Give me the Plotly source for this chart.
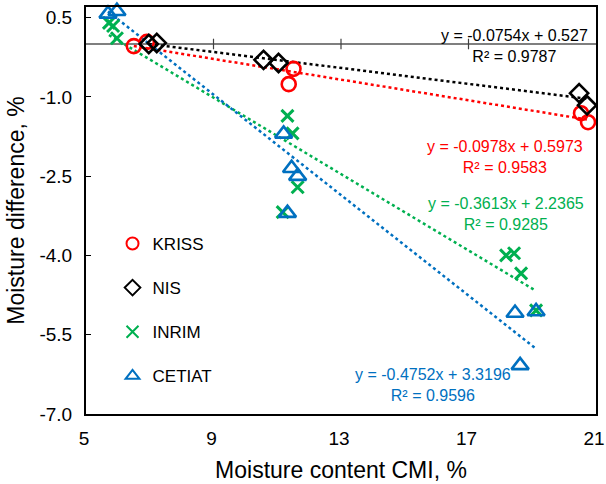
import plotly.graph_objects as go
import numpy as np

# ---- data ----
kriss_x = [6.50, 6.91, 11.36, 11.51, 20.53, 20.75]
kriss_y = [-0.04, 0.04, -0.76, -0.47, -1.31, -1.48]

nis_x = [6.97, 7.22, 10.57, 11.04, 20.47, 20.72]
nis_y = [0.00, 0.02, -0.30, -0.36, -0.93, -1.16]

inrim_x = [5.72, 5.85, 5.97, 11.32, 11.48, 11.64, 11.17, 18.18, 18.43, 18.65, 19.12]
inrim_y = [0.40, 0.34, 0.11, -1.36, -1.69, -2.71, -3.18, -4.00, -3.96, -4.34, -5.04]

cetiat_x = [5.69, 5.97, 11.20, 11.45, 11.64, 11.32, 18.46, 19.12, 18.62]
cetiat_y = [0.57, 0.62, -1.70, -2.35, -2.50, -3.20, -5.09, -5.06, -6.08]

# trendline coefficients (slope, intercept, R2)
kriss_fit = (-0.0978, 0.5973, 0.9583)
nis_fit = (-0.0754, 0.527, 0.9787)
inrim_fit = (-0.3613, 2.2365, 0.9285)
cetiat_fit = (-0.4752, 3.3196, 0.9596)

x_ticks = [5, 9, 13, 17, 21]
y_ticks = [0.5, -1.0, -2.5, -4.0, -5.5, -7.0]
y_ticktext = ["0.5", "-1.0", "-2.5", "-4.0", "-5.5", "-7.0"]
cross_ticks = [9, 13, 17]

FONT = "Liberation Sans, Arial, sans-serif"

series = [
    ("KRISS", kriss_x, kriss_y, kriss_fit, "#FF0000",
     dict(symbol="circle-open", size=14, line=dict(width=2.6, color="#FF0000")),
     (18.15, -2.13)),
    ("NIS", nis_x, nis_y, nis_fit, "#000000",
     dict(symbol="diamond-open", size=14, line=dict(width=2.6, color="#000000")),
     (18.45, -0.03)),
    ("INRIM", inrim_x, inrim_y, inrim_fit, "#00B050",
     dict(symbol="x-thin-open", size=12, line=dict(width=3, color="#00B050")),
     (18.18, -3.22)),
    ("CETIAT", cetiat_x, cetiat_y, cetiat_fit, "#0070C0",
     dict(symbol="triangle-up-open", size=15, line=dict(width=2.6, color="#0070C0")),
     (15.9, -6.46)),
]

fig = go.Figure()

# trendlines first
for name, xs, ys, fit, col, mk, pos in series:
    xx = np.linspace(min(xs), max(xs), 50)
    fig.add_trace(go.Scatter(x=xx, y=fit[0] * xx + fit[1], mode="lines",
                             line=dict(color=col, width=2.5, dash="dot"),
                             showlegend=False, hoverinfo="skip"))

for name, xs, ys, fit, col, mk, pos in series:
    fig.add_trace(go.Scatter(x=xs, y=ys, mode="markers", name=name,
                             marker=dict(color=col, **mk), cliponaxis=False,
                             legendgroup=name))

annotations = []
for name, xs, ys, fit, col, mk, pos in series:
    txt = f"y = {fit[0]}x + {fit[1]}<br>R² = {fit[2]}"
    annotations.append(dict(x=pos[0], y=pos[1], xref="x", yref="y", text=txt,
                            showarrow=False, align="center",
                            font=dict(family=FONT, size=16, color=col)))

shapes = []
for t in cross_ticks:
    shapes.append(dict(type="line", xref="x", yref="y", x0=t, x1=t,
                       y0=-0.1, y1=0.1, line=dict(color="#404040", width=1.2)))

fig.update_layout(
    width=606, height=484,
    margin=dict(l=86, r=10, t=7, b=70),
    paper_bgcolor="white", plot_bgcolor="white",
    font=dict(family=FONT, color="black"),
    annotations=annotations, shapes=shapes,
    legend=dict(x=0.052, y=0.462, xanchor="left", yanchor="top",
                font=dict(family=FONT, size=17, color="black"),
                itemsizing="constant",
                tracegroupgap=19, bgcolor="rgba(0,0,0,0)"),
    xaxis=dict(range=[5, 21], tickvals=x_ticks, showgrid=False, zeroline=False,
               showline=True, linecolor="black", linewidth=2, mirror=True,
               ticks="", tickfont=dict(family=FONT, size=19, color="black"),
               ticklabelstandoff=6, ticklabelshift=-2,
               ticklabeloverflow="allow", automargin=False,
               title=dict(text="Moisture content CMI, %", standoff=14,
                          font=dict(family=FONT, size=23, color="black"))),
    yaxis=dict(range=[-7.0, 0.7], tickvals=y_ticks, ticktext=y_ticktext,
               showgrid=False, zeroline=True, zerolinecolor="#7F7F7F", zerolinewidth=1.5,
               showline=True, linecolor="black", linewidth=2, mirror=True,
               ticks="inside", ticklen=5, tickcolor="black",
               tickfont=dict(family=FONT, size=19, color="black"),
               ticklabelstandoff=8, automargin=False,
               title=dict(text="Moisture difference, %", standoff=8,
                          font=dict(family=FONT, size=23, color="black"))),
)

fig.write_html("out.html")
